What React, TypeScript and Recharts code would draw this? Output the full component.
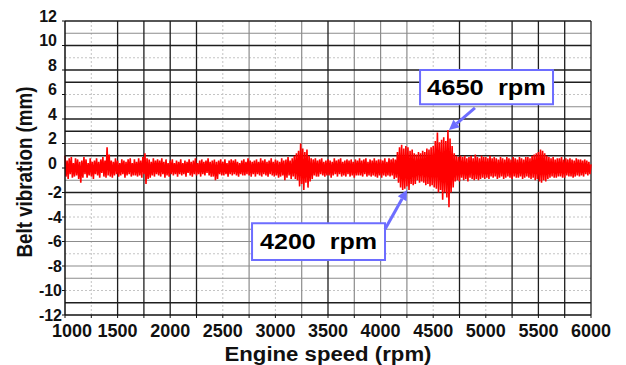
import React from 'react';
import { LineChart, Line, XAxis, YAxis, CartesianGrid, ReferenceArea, ReferenceLine } from 'recharts';

// Engine speed sampling (rpm)
const rpmStart = 1000;
const rpmStep = 10;

// Belt vibration (mm) (alternating upper / lower excursions)
const vibration = [
  1.0, -0.7, 0.6, -0.9, 0.8, -0.5, 0.9, -0.8, 0.4, -0.7,
  0.8, -0.6, 0.7, -0.9, 0.5, -1.2, 0.6, -0.8, 0.9, -0.5,
  0.7, -0.8, 0.4, -0.6, 0.8, -0.7, 0.5, -0.9, 0.6, -0.5,
  0.8, -0.6, 0.5, -0.8, 0.7, -0.4, 0.9, -0.7, 0.6, -0.8,
  1.7, -0.6, 1.1, -0.7, 0.6, -0.8, 0.5, -0.6, 0.8, -0.5,
  0.6, -0.7, 0.4, -0.6, 0.7, -0.5, 0.6, -0.8, 0.5, -0.6,
  0.7, -0.5, 0.8, -0.7, 0.4, -0.6, 0.7, -0.6, 0.5, -0.7,
  0.8, -0.6, 0.6, -0.8, 0.9, -0.5, 1.2, -1.3, 0.8, -0.9,
  0.7, -0.8, 0.5, -0.6, 0.8, -0.7, 0.6, -0.5, 0.7, -0.6,
  0.6, -0.7, 0.8, -0.5, 0.5, -0.8, 0.7, -0.6, 0.4, -0.7,
  0.6, -0.5, 0.7, -0.6, 0.4, -0.5, 0.6, -0.7, 0.5, -0.5,
  0.7, -0.6, 0.4, -0.5, 0.6, -0.7, 0.5, -0.4, 0.7, -0.6,
  0.5, -0.7, 0.6, -0.5, 0.8, -0.6, 0.4, -0.5, 0.6, -0.7,
  0.7, -0.5, 0.5, -0.6, 0.6, -0.4, 0.8, -0.6, 0.5, -0.7,
  0.6, -0.7, 0.7, -1.0, 0.5, -0.9, 0.6, -0.5, 0.7, -0.6,
  0.5, -0.6, 0.7, -0.5, 0.4, -0.7, 0.6, -0.5, 0.7, -0.6,
  0.6, -0.5, 0.7, -0.6, 0.5, -0.7, 0.4, -0.5, 0.6, -0.6,
  0.7, -0.6, 0.5, -0.5, 0.8, -0.6, 0.6, -0.7, 0.5, -0.5,
  0.6, -0.7, 0.7, -0.5, 0.5, -0.6, 0.8, -0.7, 0.6, -0.5,
  0.7, -0.6, 0.5, -0.7, 0.6, -0.5, 0.8, -0.6, 0.5, -0.7,
  0.7, -0.6, 0.6, -0.8, 0.5, -0.7, 0.8, -0.6, 0.6, -1.0,
  0.7, -0.8, 0.9, -0.6, 0.6, -0.9, 0.8, -0.7, 1.0, -0.9,
  1.2, -1.0, 1.4, -1.5, 2.0, -1.3, 1.6, -1.8, 1.3, -1.2,
  1.5, -1.6, 1.0, -1.1, 0.8, -0.9, 0.7, -0.6, 0.8, -0.7,
  0.6, -0.7, 0.7, -0.5, 0.8, -0.6, 0.5, -0.7, 0.6, -0.6,
  0.7, -0.6, 0.6, -0.8, 0.5, -0.6, 0.8, -0.5, 0.6, -0.7,
  0.7, -0.5, 0.8, -0.7, 0.5, -0.6, 0.6, -0.7, 0.7, -0.5,
  0.6, -0.7, 0.7, -0.6, 0.5, -0.8, 0.7, -0.6, 0.6, -0.6,
  0.8, -0.6, 0.6, -0.7, 0.7, -0.5, 0.8, -0.7, 0.5, -0.6,
  0.7, -0.7, 0.6, -0.6, 0.8, -0.7, 0.6, -0.8, 0.7, -0.6,
  0.7, -0.8, 0.6, -0.6, 0.8, -0.7, 0.5, -0.6, 0.8, -0.7,
  0.7, -0.6, 0.8, -0.9, 0.7, -0.8, 1.3, -1.2, 1.7, -1.6,
  1.9, -1.8, 1.6, -1.7, 1.8, -1.5, 1.7, -1.8, 1.4, -1.3,
  1.5, -1.4, 1.2, -1.3, 1.1, -1.0, 1.3, -1.2, 1.2, -1.1,
  1.4, -1.2, 1.3, -1.4, 1.6, -1.3, 1.5, -1.5, 1.7, -1.4,
  1.8, -1.6, 2.2, -1.7, 2.9, -2.0, 2.1, -1.8, 2.3, -2.6,
  2.5, -2.0, 2.2, -2.4, 3.1, -3.2, 2.4, -2.0, 1.8, -1.6,
  1.2, -1.1, 1.0, -1.0, 0.9, -1.1, 1.0, -0.8, 0.9, -1.0,
  1.0, -0.9, 0.8, -1.1, 0.9, -0.8, 1.0, -0.9, 0.8, -1.0,
  1.1, -0.9, 0.9, -1.0, 0.8, -0.9, 1.0, -0.8, 0.9, -0.9,
  0.9, -0.8, 0.8, -0.9, 1.0, -0.7, 0.8, -0.8, 0.9, -0.7,
  0.8, -0.9, 0.7, -0.8, 0.9, -0.7, 0.8, -0.9, 0.7, -0.8,
  0.9, -0.7, 0.8, -0.8, 0.7, -0.9, 0.9, -0.7, 0.8, -0.8,
  0.7, -0.8, 0.9, -0.7, 0.8, -0.9, 0.7, -0.8, 0.9, -0.7,
  0.9, -0.8, 0.8, -0.9, 1.0, -0.8, 1.1, -1.0, 1.2, -0.9,
  1.3, -1.1, 1.5, -1.2, 1.4, -1.0, 1.2, -1.1, 1.0, -0.9,
  0.9, -0.8, 0.8, -0.7, 0.9, -0.8, 0.7, -0.8, 0.8, -0.7,
  0.8, -0.7, 0.9, -0.8, 0.7, -0.8, 0.8, -0.6, 0.7, -0.7,
  0.8, -0.7, 0.7, -0.8, 0.6, -0.7, 0.8, -0.6, 0.7, -0.7,
  0.7, -0.6, 0.6, -0.7, 0.7, -0.5, 0.6, -0.6, 0.5, -0.5,
  0.3,
];

const xTicks = [1000, 1250, 1500, 1750, 2000, 2250, 2500, 2750, 3000, 3250, 3500, 3750, 4000, 4250, 4500, 4750, 5000, 5250, 5500, 5750, 6000];
const xLabelled = [1000, 1500, 2000, 2500, 3000, 3500, 4000, 4500, 5000, 5500, 6000];
const yTicks = [-12, -10, -8, -6, -4, -2, 0, 2, 4, 6, 8, 10, 12];

// grid lines grouped by how dark they print
const vGridDark = [1500, 1750, 2000, 2250, 3500, 4750, 5250, 5500, 5750, 6000];
const vGridMid = [2750, 3250, 3750, 4000, 4250];
const vGridLight = [1250, 2500, 3000, 4500, 5000];
const hGridDark = [12, 10, 8, 7, 4, 3, 1, -2, -11];
const hGridMid = [11, 5, 2, 0, -1, -3, -5, -6, -8, -9];
const hGridLight = [9, 6, -4, -7, -10];

// annotations
const note4200 = { text: '4200  rpm', box: [2778, 4042, -7.5, -4.5], from: [4042, -5.0], to: [4251, -1.8] };
const note4650 = { text: '4650  rpm', box: [4375, 5639, 5.2, 8.0], from: [4897, 4.9], to: [4650, 3.1] };

const data = vibration.map((v, i) => ({ rpm: rpmStart + i * rpmStep, v }));

const FONT = '"Liberation Sans", Arial, Helvetica, sans-serif';
const BLUE = '#6d6dff';

const XTick = (props: any) => {
  const { x, y, payload } = props;
  const val = payload.value;
  if (!xLabelled.includes(val)) return null;
  const dx = val === 1000 ? 7 : 0;
  return (
    <text x={x + dx} y={y} dy="0.71em" textAnchor="middle" fontFamily={FONT} fontWeight="bold" fontSize={18} fill="#111">
      {val}
    </text>
  );
};

const YTick = (props: any) => {
  const { x, y, payload } = props;
  const val = payload.value;
  const neg = val < 0;
  return (
    <text x={neg ? x + 5 : x} y={neg ? y : y - 5} dy="0.36em" textAnchor="end" fontFamily={FONT} fontWeight="bold" fontSize={16} fill="#111">
      {val}
    </text>
  );
};

const boxLabel = (text: string, len: number) => (props: any) => {
  const vb = props.viewBox || {};
  return (
    <text
      x={vb.x + vb.width / 2}
      y={vb.y + vb.height / 2}
      dy="0.36em"
      textAnchor="middle"
      fontFamily={FONT}
      fontWeight="bold"
      fontSize={22}
      fill="#000"
      textLength={len}
      lengthAdjust="spacingAndGlyphs"
      style={{ whiteSpace: 'pre' }}
    >
      {text}
    </text>
  );
};

const Arrow = (props: any) => {
  const { x1, y1, x2, y2 } = props;
  if ([x1, y1, x2, y2].some((n) => typeof n !== 'number' || isNaN(n))) return null;
  const dx = x2 - x1;
  const dy = y2 - y1;
  const len = Math.sqrt(dx * dx + dy * dy) || 1;
  const ux = dx / len;
  const uy = dy / len;
  const head = 10;
  const half = 5;
  const bx = x2 - ux * head;
  const by = y2 - uy * head;
  const pts = `${x2},${y2} ${bx - uy * half},${by + ux * half} ${bx + uy * half},${by - ux * half}`;
  return (
    <g>
      <line x1={x1} y1={y1} x2={bx} y2={by} stroke={BLUE} strokeWidth={3} />
      <polygon points={pts} fill={BLUE} />
    </g>
  );
};

const XTitle = (props: any) => {
  const vb = props.viewBox || {};
  return (
    <text x={vb.x + vb.width / 2} y={vb.y + 46} textAnchor="middle" fontFamily={FONT} fontWeight="bold" fontSize={20} fill="#111" textLength={207} lengthAdjust="spacingAndGlyphs">
      Engine speed (rpm)
    </text>
  );
};

const YTitle = (props: any) => {
  const vb = props.viewBox || {};
  const cy = vb.y + vb.height / 2 + 4;
  const cx = vb.x + 32;
  return (
    <text transform="rotate(-90)" x={-cy} y={cx} textAnchor="middle" fontFamily={FONT} fontWeight="bold" fontSize={22} fill="#111" textLength={171} lengthAdjust="spacingAndGlyphs">
      Belt vibration (mm)
    </text>
  );
};

export default function App() {
  return (
    <div style={{ width: 626, height: 365, background: '#fff' }}>
      <style>{'body{margin:0;background:#fff}'}</style>
      <LineChart width={626} height={365} data={data} margin={{ top: 21, right: 35, left: 0, bottom: 0 }}>
        <CartesianGrid horizontalValues={hGridLight} verticalValues={vGridLight} stroke="#c4c4c4" strokeDasharray="2 2" strokeWidth={1} />
        <CartesianGrid horizontalValues={hGridMid} verticalValues={vGridMid} stroke="#8c8c8c" strokeWidth={1.2} />
        <CartesianGrid horizontalValues={hGridDark} verticalValues={vGridDark} stroke="#1e1e1e" strokeWidth={1.3} />
        <XAxis
          dataKey="rpm"
          type="number"
          domain={[1000, 6000]}
          ticks={xTicks}
          interval={0}
          tick={XTick}
          tickSize={3}
          tickMargin={6}
          height={50}
          axisLine={{ stroke: '#111', strokeWidth: 1.5 }}
          tickLine={{ stroke: '#111' }}
          label={XTitle}
        />
        <YAxis
          type="number"
          domain={[-12, 12]}
          ticks={yTicks}
          interval={0}
          tick={YTick}
          tickSize={3}
          tickMargin={5}
          width={65}
          axisLine={{ stroke: '#111', strokeWidth: 1.5 }}
          tickLine={{ stroke: '#111' }}
          label={YTitle}
        />
        <Line type="linear" dataKey="v" stroke="#ff0000" strokeWidth={1.6} dot={false} isAnimationActive={false} />
        <ReferenceArea
          x1={note4200.box[0]}
          x2={note4200.box[1]}
          y1={note4200.box[2]}
          y2={note4200.box[3]}
          fill="#ffffff"
          fillOpacity={1}
          stroke={BLUE}
          strokeWidth={2}
          label={boxLabel(note4200.text, 117)}
        />
        <ReferenceArea
          x1={note4650.box[0]}
          x2={note4650.box[1]}
          y1={note4650.box[2]}
          y2={note4650.box[3]}
          fill="#ffffff"
          fillOpacity={1}
          stroke={BLUE}
          strokeWidth={2}
          label={boxLabel(note4650.text, 119)}
        />
        <ReferenceLine
          segment={[{ x: note4200.from[0], y: note4200.from[1] }, { x: note4200.to[0], y: note4200.to[1] }]}
          shape={Arrow}
        />
        <ReferenceLine
          segment={[{ x: note4650.from[0], y: note4650.from[1] }, { x: note4650.to[0], y: note4650.to[1] }]}
          shape={Arrow}
        />
      </LineChart>
    </div>
  );
}
